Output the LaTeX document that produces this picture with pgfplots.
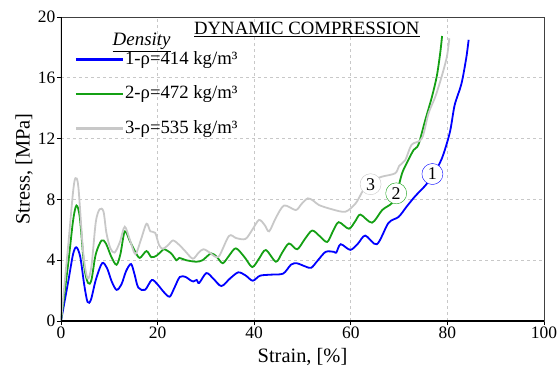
\documentclass[border=0pt]{standalone}
\usepackage{fontspec}
\setmainfont{Liberation Serif}
\usepackage{pgfplots}
\pgfplotsset{compat=1.18}
\definecolor{cblue}{RGB}{0,0,255}
\definecolor{cgreen}{RGB}{20,160,20}
\definecolor{cgray}{RGB}{200,200,200}
\begin{document}
\begin{tikzpicture}
\useasboundingbox (-61bp,-51bp) rectangle (499bp,321bp);
\begin{axis}[
  at={(0,0)}, anchor=south west,
  scale only axis, width=483bp, height=304bp,
  xmin=0, xmax=100, ymin=0, ymax=20,
  xtick={0,20,...,100}, ytick={0,4,...,20},
  xtick pos=bottom, ytick pos=left,
  tick align=outside, major tick length=4bp,
  tick style={black, line width=0.8bp},
  grid=major,
  grid style={dashed, color=cgray, line width=0.8bp},
  axis line style={black!75, line width=0.8bp},
  /pgf/number format/assume math mode=true,
  tick label style={font=\fontsize{17.5}{20}\selectfont},
  xticklabel style={inner sep=1.5bp},
  yticklabel style={inner sep=1.5bp},
  xlabel={Strain, [\%]}, ylabel={Stress, [MPa]},
  label style={font=\fontsize{20.5}{24}\selectfont},
  xlabel style={yshift=-5bp},
  ylabel style={yshift=0bp},
  legend style={draw=none, fill=none, at={(axis cs:2.2,17.95)}, anchor=north west,
    font=\fontsize{18.8}{22}\selectfont, row sep=18bp, nodes={inner sep=1bp}},
  legend cell align=left,
  legend image code/.code={\draw[#1, line width=2.3bp] (0bp,-1bp) -- (47bp,-1bp);},
  every axis plot/.append style={line width=1.8bp, smooth, tension=0.5},
]
\addplot[cblue] coordinates {
(0,0) (1.5,2.6) (2.5,4.4) (3.2,4.85) (4.0,4.2) (4.8,2.4) (5.5,1.25) (6.2,1.4) (7.2,2.7) (8.5,3.8) (9.5,3.5) (10.5,2.6) (11.5,2.05) (12.5,2.4) (13.5,3.3) (14.5,3.75) (15.2,3.1) (16,2.2) (17.4,2.05) (18.8,2.7) (20,2.4) (21.3,1.9) (22.5,1.6) (23.5,2.2) (24.6,2.9) (25.8,2.9) (26.7,2.7) (27.4,2.6) (28.1,2.7) (28.6,2.5) (30.1,3.15) (31.5,2.8) (33.2,2.3) (35,2.8) (36.7,3.2) (38.2,3.0) (39.7,2.65) (41.2,2.98) (43.5,3.05) (46,3.12) (47.6,3.7) (48.8,3.8) (50.5,3.6) (51.8,3.5) (53.2,4.0) (54.8,4.55) (56.5,4.55) (57,4.5) (57.9,5.05) (59.9,4.68) (61.5,5.1) (63,5.62) (65.4,5.05) (67.8,6.45) (69.9,6.85) (71.5,7.5) (73.3,8.2) (75.4,8.9) (76.8,9.5) (78.8,10.65) (80.5,12.4) (81.5,14.2) (82.9,15.6) (83.9,17.3) (84.4,18.5)};
\addlegendentry{1-ρ=414 kg/m³}
\addplot[cgreen] coordinates {
(0,0) (1.5,3.8) (2.5,6.6) (3.2,7.6) (3.9,6.8) (4.8,3.6) (5.6,2.5) (6.3,2.7) (7.2,4.4) (8.4,5.3) (9.3,5.1) (10.45,4.2) (11.5,3.7) (12.3,4.4) (13.2,5.9) (14.2,5.3) (15.3,4.6) (16.3,4.15) (17.7,4.6) (18.7,4.2) (19.8,4.3) (20.8,4.6) (21.4,4.72) (22.8,4.45) (23.9,4.0) (24.5,4.15) (25.9,4.0) (28,3.9) (29.3,4.0) (31.1,4.45) (32.3,4.2) (33.5,3.8) (34.8,4.3) (36.2,4.78) (38,4.2) (39.6,3.55) (41,4.1) (42.4,4.67) (44.5,3.9) (45.8,4.5) (47.2,5.1) (48.9,4.72) (50.5,5.4) (52,5.95) (53.5,5.6) (55.1,5.2) (56.3,5.9) (57.5,6.5) (59.6,6.07) (61,6.6) (62,7.0) (64.4,6.47) (66.5,7.3) (68.5,7.75) (69.5,8.4) (70.6,9.7) (71.6,10.4) (73,11.25) (74,11.6) (75.4,13.2) (76.8,14.75) (77.8,16.1) (78.5,17.6) (78.9,18.75)};
\addlegendentry{2-ρ=472 kg/m³}
\addplot[cgray] coordinates {
(0,0) (1.5,5) (2.5,8.5) (3.0,9.4) (3.6,8.8) (4.6,4.5) (5.5,2.8) (6.3,3.6) (7.2,6.5) (8,7.35) (8.8,7.2) (9.4,5.8) (10.2,4.8) (11.1,4.5) (12.2,5.2) (13.2,6.2) (14.3,5.3) (15.4,4.4) (16.5,5.3) (17.7,6.4) (18.5,5.9) (19.5,5.8) (20.3,5.0) (21.1,4.75) (22.2,5.0) (23.2,5.3) (24.5,5.0) (25.7,4.6) (27.3,4.1) (28.5,4.5) (29.5,4.72) (30.8,4.5) (31.8,4.25) (32.8,4.3) (34.8,5.6) (36.3,5.45) (38.2,5.4) (39.6,6.0) (41,6.65) (42.2,6.3) (43.1,5.9) (44.5,6.8) (46.2,7.6) (48.6,7.3) (49.8,7.7) (51.1,8.07) (52.3,7.9) (53.4,7.63) (56.1,7.35) (58.9,7.19) (61,7.74) (62.2,8.4) (63,8.8) (65,9.3) (66.5,9.5) (69.2,9.72) (70,10.2) (71.3,10.6) (72.6,11.6) (74.7,12.0) (76.1,13.67) (77.5,14.76) (78.8,16.07) (79.9,17.4) (80.4,18.6)};
\addlegendentry{3-ρ=535 kg/m³}
\node[font=\fontsize{19}{22}\selectfont] at (axis cs:16.7,18.35) {\underline{\textit{Density}}};
\node[font=\fontsize{18.8}{22}\selectfont] at (axis cs:50.9,19.2) {\underline{DYNAMIC COMPRESSION}};
\node[circle, draw=cblue, fill=white, inner sep=1bp, minimum size=21bp, font=\fontsize{18}{21}\selectfont] at (axis cs:76.9,9.67) {1};
\node[circle, draw=cgreen, fill=white, inner sep=1bp, minimum size=21bp, font=\fontsize{18}{21}\selectfont] at (axis cs:69.4,8.4) {2};
\node[circle, draw=cgray, fill=white, inner sep=1bp, minimum size=21bp, font=\fontsize{18}{21}\selectfont] at (axis cs:64.1,9.0) {3};
\draw[black, line width=2.5bp] (rel axis cs:0,1) -- (rel axis cs:0,0) -- (rel axis cs:1,0);
\end{axis}
\end{tikzpicture}
\end{document}
